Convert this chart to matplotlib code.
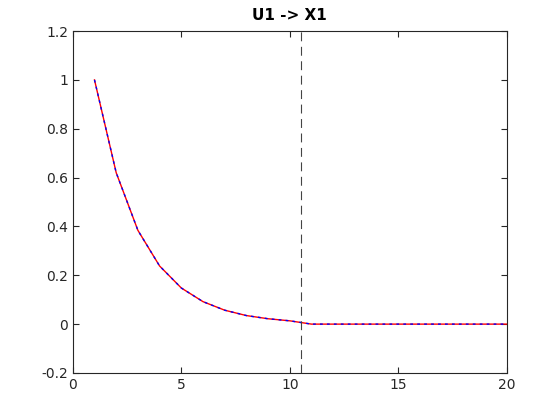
import matplotlib
matplotlib.use('Agg')
import matplotlib.pyplot as plt
from matplotlib.ticker import FuncFormatter

# Impulse response values
steps = list(range(1, 21))
response = [1.0, 0.62, 0.384, 0.238, 0.148, 0.092, 0.057, 0.035, 0.022, 0.0135,
            0.0, 0.0, 0.0, 0.0, 0.0, 0.0, 0.0, 0.0, 0.0, 0.0]
response_fit = list(response)
cutoff = 10.5

fig = plt.figure(figsize=(5.6, 4.2), dpi=100)
ax = fig.add_axes([0.13, 0.112, 0.775, 0.814])

ax.plot(steps, response, color='red', linewidth=1)
ax.plot(steps, response_fit, color='blue', linewidth=1, linestyle=(0, (2, 3)))
ax.axvline(cutoff, color='#444444', linewidth=0.8, linestyle=(0, (8, 5)))

ax.set_xlim(0, 20)
ax.set_ylim(-0.2, 1.2)
ax.set_xticks([0, 5, 10, 15, 20])
ax.set_yticks([-0.2, 0, 0.2, 0.4, 0.6, 0.8, 1, 1.2])
ax.yaxis.set_major_formatter(FuncFormatter(lambda v, p: f'{v:g}'))
ax.tick_params(direction='in', top=True, right=True, labelsize=10, colors='#262626', length=4)
for s in ax.spines.values():
    s.set_color('#262626')
    s.set_linewidth(0.8)
ax.set_title('U1 -> X1', fontsize=11, fontweight='bold', pad=8)

fig.savefig('out.png', dpi=100)
